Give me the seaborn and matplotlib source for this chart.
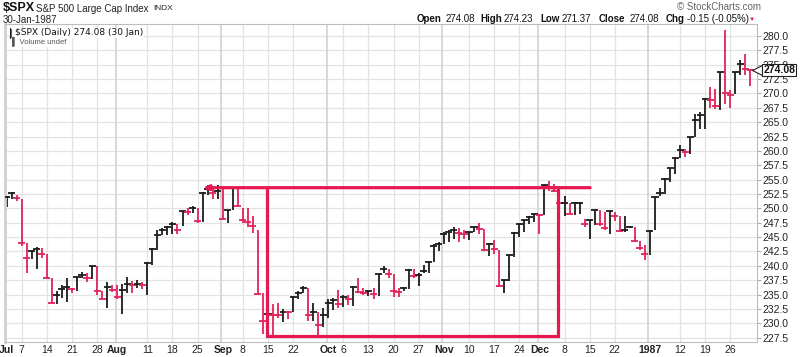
import matplotlib
matplotlib.use("Agg")
import matplotlib.pyplot as plt
import matplotlib.transforms as mtransforms
import numpy as np
import pandas as pd
import seaborn as sns

# trading days Jul-1986 .. Jan-1987 (market holidays removed)
holidays = ["1986-07-04", "1986-09-01", "1986-11-27", "1986-12-25", "1987-01-01"]
days = pd.bdate_range("1986-07-01", "1987-01-30")
days = days[~days.isin(pd.to_datetime(holidays))]

# daily bars (old data: open == close)
highs = [
    252.1, 252.9, 252.4, 251.6, 243.9, 242.8, 243.2, 243.1, 242.0, 237.8,
    235.6, 236.6, 237.9, 236.2, 238.1, 238.9, 238.7, 240.0, 239.9, 235.6,
    237.1, 236.7, 236.7, 236.8, 238.0, 237.3, 237.5, 237.1, 240.7, 243.1,
    246.3, 246.5, 246.9, 247.6, 247.2, 249.6, 250.1, 250.4, 250.0, 252.9,
    254.0, 253.3, 254.0, 253.5, 249.8, 253.8, 253.8, 250.1, 250.1, 248.6,
    246.3, 235.3, 232.2, 233.4, 233.5, 232.4, 232.1, 234.7, 235.7, 236.5,
    236.1, 233.5, 232.0, 232.6, 234.3, 234.4, 235.8, 235.0, 234.9, 236.5,
    237.9, 236.1, 235.7, 236.1, 238.6, 240.0, 239.4, 238.5, 236.1, 236.4,
    239.4, 239.5, 238.7, 240.1, 240.9, 243.8, 244.2, 245.8, 246.2, 246.8,
    246.6, 246.2, 245.9, 246.8, 247.4, 246.4, 244.0, 244.5, 242.7, 237.6,
    241.9, 245.8, 247.3, 248.0, 248.6, 249.1, 249.0, 254.1, 254.8, 254.3,
    252.9, 252.2, 250.9, 251.1, 251.1, 248.2, 248.0, 249.8, 249.8, 249.3,
    249.6, 249.4, 248.6, 248.6, 246.9, 246.8, 244.4, 243.6, 246.2, 252.0,
    253.6, 255.3, 257.1, 258.8, 261.1, 260.4, 262.5, 266.5, 266.8, 269.2,
    271.2, 270.8, 273.8, 281.0, 270.6, 273.8, 275.8, 276.8, 274.23,
]
lows = [
    250.3, 251.6, 251.2, 243.5, 238.8, 241.2, 239.4, 241.4, 237.8, 233.4,
    233.4, 234.4, 233.7, 235.2, 235.6, 237.9, 237.1, 237.7, 234.9, 234.2,
    232.7, 235.5, 234.2, 231.6, 235.2, 235.2, 236.1, 236.0, 235.0, 240.1,
    242.8, 245.3, 245.4, 245.5, 245.5, 246.9, 248.9, 249.2, 247.5, 247.6,
    252.4, 251.7, 251.7, 248.0, 247.5, 249.8, 250.2, 247.5, 246.7, 245.7,
    234.9, 228.2, 230.0, 228.0, 230.9, 230.2, 230.8, 232.0, 234.3, 235.2,
    230.4, 230.4, 227.7, 229.4, 231.0, 232.3, 232.6, 232.9, 233.2, 233.0,
    235.2, 234.9, 234.8, 234.2, 234.7, 238.7, 237.8, 234.5, 234.5, 235.6,
    236.0, 237.8, 236.5, 238.7, 238.7, 240.7, 242.6, 243.8, 244.2, 244.7,
    244.2, 244.6, 244.5, 245.9, 245.6, 242.6, 241.7, 242.0, 236.4, 235.2,
    237.4, 241.6, 245.0, 245.8, 247.2, 247.6, 245.5, 248.9, 253.1, 252.8,
    250.3, 248.7, 249.0, 248.8, 249.0, 246.8, 244.6, 247.1, 246.9, 246.3,
    245.5, 247.8, 245.8, 245.8, 246.6, 244.1, 242.8, 241.0, 241.9, 246.2,
    252.2, 252.5, 254.6, 255.9, 258.7, 259.0, 259.4, 262.5, 263.9, 263.8,
    267.4, 267.3, 267.1, 268.1, 267.5, 269.9, 273.2, 273.2, 271.37,
]
closes = [
    252.0, 252.6, 251.8, 244.0, 241.4, 242.6, 242.9, 242.0, 237.9, 233.5,
    234.9, 235.9, 236.3, 236.0, 238.0, 238.4, 237.8, 240.0, 235.6, 234.3,
    236.4, 235.8, 234.6, 235.8, 236.8, 236.6, 236.85, 236.7, 240.55, 243.0,
    245.4, 246.2, 246.8, 247.3, 246.3, 249.5, 249.3, 250.0, 247.8, 252.7,
    253.3, 252.7, 253.1, 248.2, 249.7, 253.5, 250.4, 248.0, 247.6, 246.9,
    235.1, 230.4, 231.6, 231.5, 231.4, 232.0, 231.9, 234.6, 235.3, 236.1,
    231.5, 232.0, 229.7, 231.5, 233.5, 234.0, 233.4, 234.6, 234.2, 236.4,
    235.5, 235.3, 235.6, 235.1, 238.5, 239.4, 238.5, 235.7, 235.5, 236.1,
    239.3, 238.2, 238.4, 239.1, 240.7, 243.5, 243.8, 245.6, 245.9, 246.3,
    245.7, 245.6, 245.8, 246.7, 246.4, 242.8, 243.8, 242.9, 236.5, 237.5,
    241.8, 245.7, 247.2, 247.9, 248.5, 249.0, 248.9, 254.0, 253.7, 253.1,
    250.9, 251.0, 249.1, 250.9, 251.0, 247.2, 247.9, 249.7, 247.3, 246.6,
    249.5, 248.6, 246.1, 246.2, 246.8, 244.4, 243.1, 242.0, 246.1, 252.0,
    252.6, 255.1, 257.0, 258.7, 260.1, 259.8, 262.4, 265.4, 266.2, 269.1,
    268.9, 267.9, 273.7, 270.0, 269.7, 273.7, 275.2, 274.23, 274.08,
]

tick_dates = [
    "1986-07-01", "1986-07-07", "1986-07-14", "1986-07-21", "1986-07-28",
    "1986-08-01", "1986-08-11", "1986-08-18", "1986-08-25", "1986-09-02",
    "1986-09-08", "1986-09-15", "1986-09-22", "1986-10-01", "1986-10-06",
    "1986-10-13", "1986-10-20", "1986-10-27", "1986-11-03", "1986-11-10",
    "1986-11-17", "1986-11-24", "1986-12-01", "1986-12-08", "1986-12-15",
    "1986-12-22", "1987-01-02", "1987-01-12", "1987-01-19", "1987-01-26",
]
tick_labels = [
    "Jul", "7", "14", "21", "28", "Aug", "11", "18", "25", "Sep", "8", "15",
    "22", "Oct", "6", "13", "20", "27", "Nov", "10", "17", "24", "Dec", "8",
    "15", "22", "1987", "12", "19", "26",
]
month_labels = ["Jul", "Aug", "Sep", "Oct", "Nov", "Dec", "1987"]

# hand drawn annotation (resistance line + consolidation box), in bar units
resistance = 253.6
arrow_span = (39.1, 116.1)
box_span = (51.8, 109.7)

BLACK = "#1c1c1c"
RED = "#e0245a"
MARK = "#e8174f"
GRID = "#e3e3e3"

df = pd.DataFrame({"date": days, "high": highs, "low": lows, "close": closes})
df["day"] = np.arange(len(df))
df["dir"] = np.where(df["close"].diff() < 0, "down", "up")
palette = {"up": BLACK, "down": RED}

sns.set_theme(style="white")
plt.rcParams["font.family"] = ["Liberation Sans", "DejaVu Sans"]

fig = plt.figure(figsize=(8, 3.57), dpi=100)
W, H = 800, 357
ax = fig.add_axes([5 / W, 1 - 342 / H, 752 / W, 318 / H])

# grid
yt = np.arange(227.5, 280.01, 2.5)
day_of = {d: i for i, d in enumerate(df["date"])}
xt = [day_of[pd.Timestamp(d)] for d in tick_dates]
for y in yt:
    ax.axhline(y, color=GRID, lw=0.9, zorder=0)
for x, lab in zip(xt, tick_labels):
    if lab in month_labels:
        ax.axvline(x - 0.3, color="#d2d2d2", lw=1.2, zorder=0)
    else:
        ax.axvline(x, color=GRID, lw=0.9, zorder=0)

# high-low bars + close ticks
ax.vlines(df["day"], df["low"], df["high"], colors=df["dir"].map(palette), lw=1.3, zorder=2)
sns.scatterplot(data=df, x="day", y="close", hue="dir", palette=palette, marker="_",
                s=26, linewidth=1.3, legend=False, ax=ax, zorder=3)

# annotation
ax.annotate("", xy=(arrow_span[0], resistance), xytext=(arrow_span[1], resistance),
            arrowprops=dict(arrowstyle="-|>,head_length=0.25,head_width=0.12",
                            color=MARK, lw=2.3, shrinkA=0, shrinkB=0), zorder=4)
box_bottom = df["low"].min()
ax.plot([box_span[0], box_span[0], box_span[1], box_span[1]],
        [resistance, box_bottom, box_bottom, resistance],
        color=MARK, lw=2.3, solid_joinstyle="miter", zorder=4)

ax.set_xlim(-0.32, 149.3)
ax.set_ylim(226.74, 282.09)
ax.set_xlabel("")
ax.set_ylabel("")

ax.set_xticks(xt)
ax.set_xticklabels(tick_labels, fontsize=7.5, color="#222222")
for t in ax.get_xticklabels():
    if t.get_text() in month_labels:
        t.set_fontweight("bold")
ax.tick_params(axis="x", length=0, pad=2)

ax.yaxis.tick_right()
ax.set_yticks(yt)
ax.set_yticklabels([f"{v:.1f}" for v in yt], fontsize=7.5, color="#222222")
ax.tick_params(axis="y", length=3, width=0.6, color="#999999", pad=1)

for side, sp in ax.spines.items():
    sp.set_visible(True)
    sp.set_color("#bdbdbd")
    sp.set_linewidth(0.8)
ax.spines["left"].set_linewidth(2)
ax.spines["left"].set_color("#d0d0d0")

# last price tag on the axis
last = df["close"].iloc[-1]
blend = mtransforms.blended_transform_factory(ax.transAxes, ax.transData)
ax.plot([1.0], [last], marker="<", ms=6.5, mfc="white", mec="#222222", mew=0.8,
        transform=blend, clip_on=False, zorder=5)
ax.annotate(f"{last:.2f}", xy=(1.0, last), xycoords=blend, xytext=(4.5, 0),
            textcoords="offset points", ha="left", va="center", fontsize=7.5,
            fontweight="bold", color="#111111", zorder=6,
            bbox=dict(boxstyle="square,pad=0.12", fc="white", ec="#222222", lw=0.8))

# header
def ftext(x, y, s, **kw):
    fig.text(x / W, 1 - y / H, s, va="center", ha="left", **kw)

ftext(3, 8, "$SPX", fontsize=9, fontweight="bold", color="#111111")
ftext(36, 8.5, "S&P 500 Large Cap Index", fontsize=7, color="#222222")
ftext(153, 8.5, "INDX", fontsize=6, color="#222222")
ftext(3, 20, "30-Jan-1987", fontsize=7, color="#222222")
ftext(677, 7, "\u00a9 StockCharts.com", fontsize=7, color="#666666")

quote = [(417, "Open", True), (446, "274.08", False), (480, "High", True),
         (504, "274.23", False), (540, "Low", True), (562, "271.37", False),
         (599, "Close", True), (630, "274.08", False), (666, "Chg", True),
         (687, "-0.15 (-0.05%)", False)]
for x, s, bold in quote:
    ftext(x, 19, s, fontsize=7, fontweight="bold" if bold else "normal", color="#111111")
ftext(749, 19, "\u25bc", fontsize=4.5, color=MARK)

# in-chart legend
ax.text(0.013, 0.972, "$SPX (Daily) 274.08 (30 Jan)", transform=ax.transAxes,
        fontsize=6.5, family="DejaVu Sans", color="#111111", va="center", ha="left",
        bbox=dict(boxstyle="square,pad=0.1", fc="white", ec="none"), zorder=6)
ax.text(0.009, 0.946, "\u258c Volume undef", transform=ax.transAxes,
        fontsize=5.5, color="#555555", va="center", ha="left",
        bbox=dict(boxstyle="square,pad=0.1", fc="white", ec="none"), zorder=6)
ax.plot([0.006, 0.006], [0.955, 0.988], transform=ax.transAxes, color=BLACK, lw=0.8, zorder=7)
ax.plot([0.0085, 0.0085], [0.958, 0.985], transform=ax.transAxes, color=RED, lw=0.8, zorder=7)

fig.savefig("out.png", dpi=100)
